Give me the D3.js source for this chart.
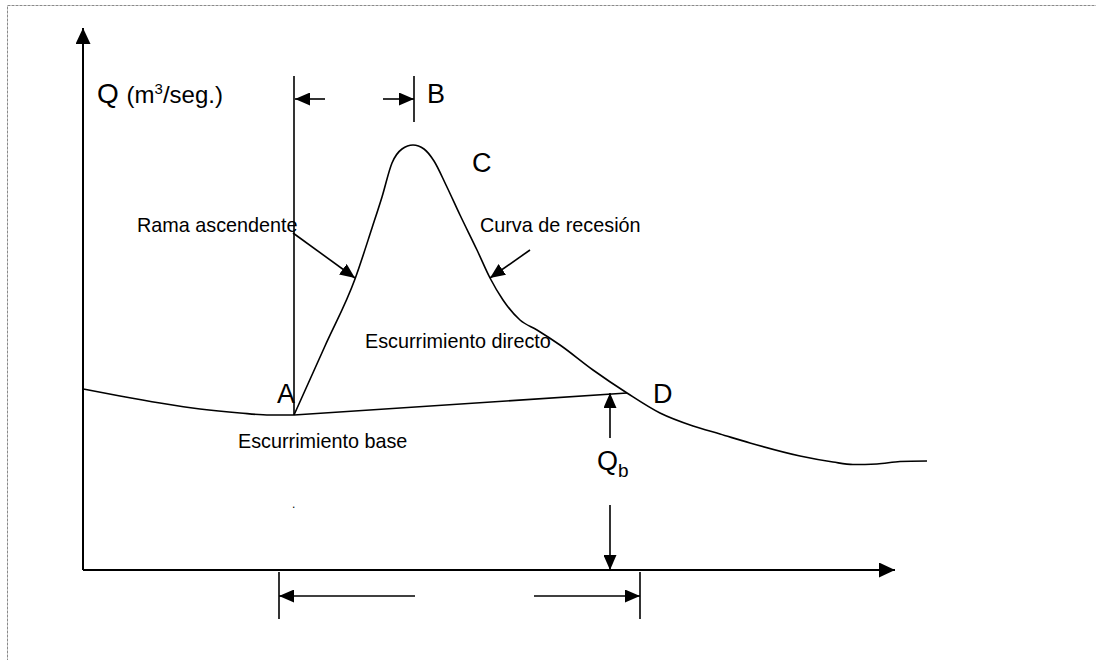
<!DOCTYPE html>
<html>
<head>
<meta charset="utf-8">
<script src="https://cdn.jsdelivr.net/npm/d3@7/dist/d3.min.js"></script>
<style>
  html, body { margin: 0; padding: 0; background: #fff; }
  svg { display: block; }
  text { font-family: "Liberation Sans", Arial, sans-serif; fill: #000; }
</style>
</head>
<body>
<svg id="chart" width="1096" height="660"></svg>
<script>
/* ── Data (time t, discharge Q — arbitrary units) ─────────── */

// falling base-flow curve left of the start of runoff (A)
const baseLeftT = [0, 3.7, 7.7, 11.7, 15.7, 18.7, 21.1];
const baseLeftQ = [18.1, 17.4, 16.7, 16.1, 15.7, 15.5, 15.5];

// hydrograph from A through peak C, D and the recession tail
const hydroT = [21.1, 24.2, 27.2, 28.9, 29.9, 30.9, 31.9, 33.0, 34.1, 35.1, 36.3, 37.7,
                39.4, 40.7, 42.0, 43.7, 45.4, 47.7, 51.0, 54.4, 57.7, 61.0, 63.7, 66.7,
                71.7, 75.0, 77.0, 79.4, 81.7, 84.4];
const hydroQ = [15.5, 22.4, 29.1, 34.2, 37.3, 40.7, 42.1, 42.5, 42.1, 40.9, 38.5, 35.5,
                32.0, 29.2, 27.0, 25.0, 24.0, 22.5, 20.0, 17.7, 15.7, 14.4, 13.6, 12.7,
                11.4, 10.8, 10.55, 10.6, 10.85, 10.9];

// base-flow separation line A -> D
const sepT = [21.1, 54.4];
const sepQ = [15.5, 17.7];

// key times and levels
const tA = 21.1, tPeak = 33.1, tBaseStart = 19.6, tBaseEnd = 55.7, tQb = 52.7;
const qA = 15.5, qD = 17.7, qTop = 49.4, qDimTop = 47.1, qTickB = 44.8;
const qDimBottom = -2.6, qTickHi = -0.2, qTickLo = -4.9;
const axisMaxT = 81.2, axisMaxQ = 54.2;

// annotation arrows [t1, q1, t2, q2] (arrow points at t2,q2)
const arrows = [
  [24.2, qDimTop, 21.2, qDimTop],       // time to peak, left
  [30.0, qDimTop, tPeak, qDimTop],      // time to peak, right
  [33.2, qDimBottom, tBaseStart, qDimBottom], // base time, left
  [45.1, qDimBottom, tBaseEnd, qDimBottom],   // base time, right
  [tQb, 13.2, tQb, qD],                 // Qb up
  [tQb, 6.5, tQb, 0],                   // Qb down
  [21.0, 33.7, 27.2, 29.2],             // rama ascendente
  [44.7, 32.0, 40.7, 29.2]              // curva de recesión
];

// plain lines [t1, q1, t2, q2]
const ticks = [
  [tA, qA, tA, qTop],
  [tPeak, qTop, tPeak, qTickB],
  [tBaseStart, qTickHi, tBaseStart, qTickLo],
  [tBaseEnd, qTickHi, tBaseEnd, qTickLo]
];

// labels [text, t, q]
const bigLabels = [
  ['B', 34.4, 46.7],
  ['C', 38.9, 39.8],
  ['A', 19.4, 16.7],
  ['D', 57.0, 16.7]
];
const smallLabels = [
  ['Rama ascendente', 5.4, 33.8],
  ['Curva de recesión', 39.7, 33.8],
  ['Escurrimiento directo', 28.2, 22.2],
  ['Escurrimiento base', 15.5, 12.2]
];

/* ── Setup ─────────────────────────────────────────────────── */
const svg = d3.select('#chart');
const x = d3.scaleLinear().domain([0, 80]).range([83, 883]);
const y = d3.scaleLinear().domain([0, 50]).range([570, 70]);

// dashed frame
svg.append('rect')
  .attr('x', 7.5).attr('y', 5.5)
  .attr('width', 1200).attr('height', 1000)
  .attr('fill', 'none')
  .attr('stroke', '#8a8a8a')
  .attr('stroke-width', 1)
  .attr('stroke-dasharray', '3,1');

const defs = svg.append('defs');
function marker(id, len, half) {
  defs.append('marker')
    .attr('id', id)
    .attr('markerUnits', 'userSpaceOnUse')
    .attr('viewBox', `0 ${-half} ${len} ${half * 2}`)
    .attr('refX', len).attr('refY', 0)
    .attr('markerWidth', len).attr('markerHeight', half * 2)
    .attr('orient', 'auto')
    .append('path')
    .attr('d', `M0,${-half}L${len},0L0,${half}Z`)
    .attr('fill', '#000');
}
marker('head', 15, 6.5);
marker('axisHead', 16, 7.5);

/* ── Axes ──────────────────────────────────────────────────── */
svg.append('line')
  .attr('x1', x(0)).attr('y1', y(0))
  .attr('x2', x(0)).attr('y2', y(axisMaxQ))
  .attr('stroke', '#000').attr('stroke-width', 2)
  .attr('marker-end', 'url(#axisHead)');
svg.append('line')
  .attr('x1', x(0)).attr('y1', y(0))
  .attr('x2', x(axisMaxT)).attr('y2', y(0))
  .attr('stroke', '#000').attr('stroke-width', 2)
  .attr('marker-end', 'url(#axisHead)');

/* ── Curves ────────────────────────────────────────────────── */
const curve = d3.line()
  .x(d => x(d[0])).y(d => y(d[1]))
  .curve(d3.curveMonotoneX);

svg.append('path')
  .datum(d3.zip(baseLeftT, baseLeftQ))
  .attr('d', curve)
  .attr('fill', 'none').attr('stroke', '#000').attr('stroke-width', 1.6);

svg.append('path')
  .datum(d3.zip(hydroT, hydroQ))
  .attr('d', curve)
  .attr('fill', 'none').attr('stroke', '#000').attr('stroke-width', 1.6);

svg.append('path')
  .datum(d3.zip(sepT, sepQ))
  .attr('d', d3.line().x(d => x(d[0])).y(d => y(d[1])))
  .attr('fill', 'none').attr('stroke', '#000').attr('stroke-width', 1.6);

/* ── Ticks and arrows ──────────────────────────────────────── */
svg.append('g').selectAll('line')
  .data(ticks).join('line')
  .attr('x1', d => x(d[0])).attr('y1', d => y(d[1]))
  .attr('x2', d => x(d[2])).attr('y2', d => y(d[3]))
  .attr('stroke', '#000').attr('stroke-width', 1.6);

svg.append('g').selectAll('line')
  .data(arrows).join('line')
  .attr('x1', d => x(d[0])).attr('y1', d => y(d[1]))
  .attr('x2', d => x(d[2])).attr('y2', d => y(d[3]))
  .attr('stroke', '#000').attr('stroke-width', 1.6)
  .attr('marker-end', 'url(#head)');

/* ── Labels ────────────────────────────────────────────────── */
const qLabel = svg.append('text')
  .attr('x', x(1.4)).attr('y', y(46.7));
qLabel.append('tspan').attr('font-size', 28).text('Q ');
qLabel.append('tspan').attr('font-size', 24).text('(m');
qLabel.append('tspan').attr('font-size', 15).attr('dy', -9).text('3');
qLabel.append('tspan').attr('font-size', 24).attr('dy', 9).text('/seg.)');

svg.append('g').selectAll('text')
  .data(bigLabels).join('text')
  .attr('x', d => x(d[1])).attr('y', d => y(d[2]))
  .attr('font-size', 27)
  .text(d => d[0]);

svg.append('g').selectAll('text')
  .data(smallLabels).join('text')
  .attr('x', d => x(d[1])).attr('y', d => y(d[2]))
  .attr('font-size', 19.8)
  .text(d => d[0]);

const qb = svg.append('text')
  .attr('x', x(51.4)).attr('y', y(10.0));
qb.append('tspan').attr('font-size', 27).text('Q');
qb.append('tspan').attr('font-size', 19).attr('dy', 7).text('b');

// stray dot below "Escurrimiento base"
svg.append('text')
  .attr('x', x(20.9)).attr('y', y(6.2))
  .attr('font-size', 12)
  .text('.');
</script>
</body>
</html>
